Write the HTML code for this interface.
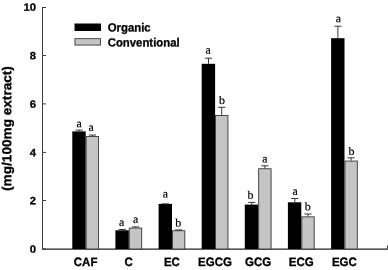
<!DOCTYPE html>
<html><head><meta charset="utf-8"><title>chart</title>
<style>
html,body{margin:0;padding:0;background:#fff;}
svg{display:block}
.b{font-family:"Liberation Sans",Arial,sans-serif;font-weight:bold;font-size:11.5px;fill:#000;stroke:#000;stroke-width:0.3px;text-rendering:geometricPrecision}
.s{font-family:"Liberation Serif","Times New Roman",serif;font-size:11.8px;fill:#000;stroke:#000;stroke-width:0.2px;text-rendering:geometricPrecision}
</style></head><body>
<svg width="388" height="270" viewBox="0 0 388 270">
<rect width="388" height="270" fill="#fff"/>

<g stroke="#3a3a3a" stroke-width="1" fill="none">
<path d="M42.5 7V249.1"/><path d="M42 249.1H388" stroke="#222" stroke-width="1.2"/>
<path d="M42.5 249.0H46"/>
<path d="M42.5 200.5H46"/>
<path d="M42.5 152.4H46"/>
<path d="M42.5 103.9H46"/>
<path d="M42.5 55.5H46"/>
<path d="M42.5 7.5H46"/>
<path d="M387.5 249.0V245.5"/>
</g>
<text class="b" transform="translate(36.00,252.75) rotate(0.05) scale(0.98,0.92)" text-anchor="end">0</text>
<text class="b" transform="translate(36.00,204.25) rotate(0.05) scale(0.98,0.92)" text-anchor="end">2</text>
<text class="b" transform="translate(36.00,156.20) rotate(0.05) scale(0.98,0.92)" text-anchor="end">4</text>
<text class="b" transform="translate(36.00,107.65) rotate(0.05) scale(0.98,0.92)" text-anchor="end">6</text>
<text class="b" transform="translate(36.00,59.25) rotate(0.05) scale(0.98,0.92)" text-anchor="end">8</text>
<text class="b" transform="translate(36.00,10.80) rotate(0.05) scale(0.98,0.92)" text-anchor="end">10</text>
<text class="b" style="font-size:13px" transform="translate(11.2,128.5) rotate(-89.95) scale(1.047,1.0)" text-anchor="middle">(mg/100mg extract)</text>
<rect x="72.3" y="131.4" width="13.4" height="117.6" fill="#000"/>
<rect x="86.15" y="136.55" width="12.40" height="112.45" fill="#c5c5c5" stroke="#383838" stroke-width="0.9"/>
<path d="M79.2 131.4V130.1M75.6 130.1H82.8" stroke="#222" stroke-width="0.9" fill="none"/>
<path d="M92.4 136.1V135.05M88.8 135.05H96.0" stroke="#222" stroke-width="0.9" fill="none"/>
<text class="s" transform="translate(79.20,127.30) rotate(0.05)" text-anchor="middle">a</text>
<text class="s" transform="translate(91.05,130.95) rotate(0.05)" text-anchor="middle">a</text>
<text class="b" transform="translate(85.60,265.90) rotate(0.05) scale(1.0,1.06)" text-anchor="middle">CAF</text>
<rect x="115.4" y="230.3" width="13.4" height="18.7" fill="#000"/>
<rect x="129.28" y="228.05" width="12.40" height="20.95" fill="#c5c5c5" stroke="#383838" stroke-width="0.9"/>
<path d="M122.3 230.3V229.5M118.7 229.5H125.9" stroke="#222" stroke-width="0.9" fill="none"/>
<path d="M135.5 227.6V226.9M131.9 226.9H139.1" stroke="#222" stroke-width="0.9" fill="none"/>
<text class="s" transform="translate(121.50,225.90) rotate(0.05)" text-anchor="middle">a</text>
<text class="s" transform="translate(135.55,223.00) rotate(0.05)" text-anchor="middle">a</text>
<text class="b" transform="translate(128.73,265.90) rotate(0.05) scale(1.0,1.06)" text-anchor="middle">C</text>
<rect x="158.6" y="203.9" width="13.4" height="45.1" fill="#000"/>
<rect x="172.41" y="230.75" width="12.40" height="18.25" fill="#c5c5c5" stroke="#383838" stroke-width="0.9"/>
<path d="M165.4 203.9V203.9M161.8 203.9H169.0" stroke="#222" stroke-width="0.9" fill="none"/>
<path d="M178.6 230.3V229.9M175.0 229.9H182.2" stroke="#222" stroke-width="0.9" fill="none"/>
<text class="s" transform="translate(165.30,197.60) rotate(0.05)" text-anchor="middle">a</text>
<text class="s" style="font-size:12px" transform="translate(178.20,226.50) rotate(0.05) scale(1,0.96)" text-anchor="middle">b</text>
<text class="b" transform="translate(171.86,265.90) rotate(0.05) scale(1.0,1.06)" text-anchor="middle">EC</text>
<rect x="201.7" y="63.8" width="13.4" height="185.2" fill="#000"/>
<rect x="215.54" y="115.45" width="12.40" height="133.55" fill="#c5c5c5" stroke="#383838" stroke-width="0.9"/>
<path d="M208.5 63.8V58.2M204.9 58.2H212.1" stroke="#222" stroke-width="0.9" fill="none"/>
<path d="M221.7 115.0V107.3M218.1 107.3H225.3" stroke="#222" stroke-width="0.9" fill="none"/>
<text class="s" transform="translate(208.10,53.70) rotate(0.05)" text-anchor="middle">a</text>
<text class="s" style="font-size:12px" transform="translate(222.00,103.90) rotate(0.05) scale(1,0.96)" text-anchor="middle">b</text>
<text class="b" transform="translate(214.99,265.90) rotate(0.05) scale(1.0,1.06)" text-anchor="middle">EGCG</text>
<rect x="244.8" y="204.6" width="13.4" height="44.4" fill="#000"/>
<rect x="258.67" y="168.75" width="12.40" height="80.25" fill="#c5c5c5" stroke="#383838" stroke-width="0.9"/>
<path d="M251.7 204.6V202.4M248.1 202.4H255.3" stroke="#222" stroke-width="0.9" fill="none"/>
<path d="M264.9 168.3V165.8M261.3 165.8H268.5" stroke="#222" stroke-width="0.9" fill="none"/>
<text class="s" style="font-size:12px" transform="translate(250.60,198.70) rotate(0.05) scale(1,0.96)" text-anchor="middle">b</text>
<text class="s" transform="translate(264.80,162.60) rotate(0.05)" text-anchor="middle">a</text>
<text class="b" transform="translate(258.12,265.90) rotate(0.05) scale(1.0,1.06)" text-anchor="middle">GCG</text>
<rect x="287.9" y="202.3" width="13.4" height="46.7" fill="#000"/>
<rect x="301.80" y="216.85" width="12.40" height="32.15" fill="#c5c5c5" stroke="#383838" stroke-width="0.9"/>
<path d="M294.8 202.3V198.5M291.2 198.5H298.4" stroke="#222" stroke-width="0.9" fill="none"/>
<path d="M308.0 216.4V214.0M304.4 214.0H311.6" stroke="#222" stroke-width="0.9" fill="none"/>
<text class="s" transform="translate(295.00,195.10) rotate(0.05)" text-anchor="middle">a</text>
<text class="s" style="font-size:12px" transform="translate(307.65,210.30) rotate(0.05) scale(1,0.96)" text-anchor="middle">b</text>
<text class="b" transform="translate(301.25,265.90) rotate(0.05) scale(1.0,1.06)" text-anchor="middle">ECG</text>
<rect x="331.1" y="38.2" width="13.4" height="210.8" fill="#000"/>
<rect x="344.93" y="161.05" width="12.40" height="87.95" fill="#c5c5c5" stroke="#383838" stroke-width="0.9"/>
<path d="M337.9 38.2V26.2M334.3 26.2H341.5" stroke="#222" stroke-width="0.9" fill="none"/>
<path d="M351.1 160.6V157.8M347.5 157.8H354.7" stroke="#222" stroke-width="0.9" fill="none"/>
<text class="s" transform="translate(338.30,22.20) rotate(0.05)" text-anchor="middle">a</text>
<text class="s" style="font-size:12px" transform="translate(351.45,154.95) rotate(0.05) scale(1,0.96)" text-anchor="middle">b</text>
<text class="b" transform="translate(344.38,265.90) rotate(0.05) scale(1.0,1.06)" text-anchor="middle">EGC</text>
<rect x="74.5" y="23.5" width="26.5" height="7.5" fill="#000"/>
<rect x="74.95" y="38.65" width="25.6" height="6.4" fill="#c5c5c5" stroke="#383838" stroke-width="0.9"/>
<text class="b" transform="translate(107.7,31.5) rotate(0.05) scale(0.988,1.04)">Organic</text>
<text class="b" transform="translate(107.7,46.4) rotate(0.05) scale(0.988,1.04)">Conventional</text>
</svg></body></html>
